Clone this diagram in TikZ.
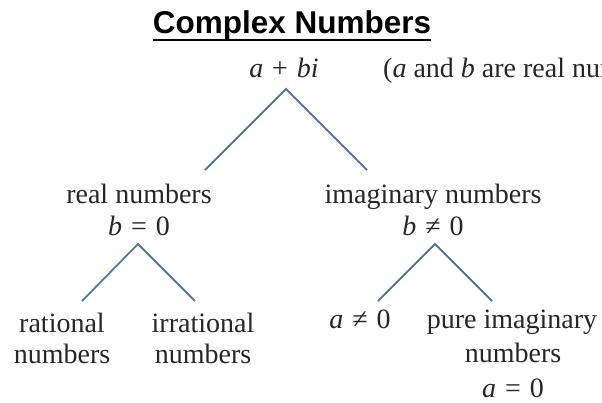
\documentclass[tikz,border=0pt]{standalone}
\usepackage{fontspec}
\setmainfont{Liberation Serif}
\newfontfamily\titlefont{Liberation Sans}
\definecolor{linecol}{RGB}{84,118,163}
\newcommand\opsp{\hspace{0.32em}}
\begin{document}
\begin{tikzpicture}[x=1pt,y=-1pt,
  lbl/.style={inner sep=0pt, anchor=base, font=\fontsize{28}{32}\selectfont, text=black!85},
  branch/.style={draw=linecol, line width=1.8pt}]
\useasboundingbox (0,0) rectangle (602,402);
\clip (0,0) rectangle (602,402);
% title
\node[inner sep=0pt, anchor=base] (title) at (292,33)
  {\titlefont\bfseries\fontsize{31.5}{36}\selectfont Complex Numbers};
\draw[line width=2.8pt] ([yshift=-7pt]title.base west) -- ([yshift=-7pt]title.base east);
% top row
\node[lbl] (abi) at (284,77) {\textit{a}\opsp+\opsp\textit{bi}};
\node[lbl, anchor=base west] (note) at (383,77) {(\textit{a} and \textit{b} are real num};
\coordinate (ap0) at (286,89);
\coordinate (l0) at (205,170);
\coordinate (r0) at (367,170);
\draw[branch] (l0) -- (ap0) -- (r0);
% second row
\node[lbl] (real) at (139,203) {real numbers};
\node[lbl] (b0) at (139,235) {\textit{b}\opsp=\opsp0};
\node[lbl] (imag) at (433,203) {imaginary numbers};
\node[lbl] (bn0) at (433,235) {\textit{b}\opsp≠\opsp0};
% sub branches
\coordinate (ap1) at (138,244);
\coordinate (l1) at (82,301);
\coordinate (r1) at (195,301);
\draw[branch] (l1) -- (ap1) -- (r1);
\coordinate (ap2) at (435,244);
\coordinate (l2) at (378,301);
\coordinate (r2) at (492,301);
\draw[branch] (l2) -- (ap2) -- (r2);
% bottom row
\node[lbl] (rat) at (62,332) {rational};
\node[lbl] (rat2) at (62,363) {numbers};
\node[lbl] (irr) at (203,332) {irrational};
\node[lbl] (irr2) at (203,363) {numbers};
\node[lbl] (an0) at (360,328) {\textit{a}\opsp≠\opsp0};
\node[lbl] (pure) at (512,328) {pure imaginary};
\node[lbl] (pure2) at (513,362) {numbers};
\node[lbl] (a0) at (513,397) {\textit{a}\opsp=\opsp0};
\end{tikzpicture}
\end{document}
